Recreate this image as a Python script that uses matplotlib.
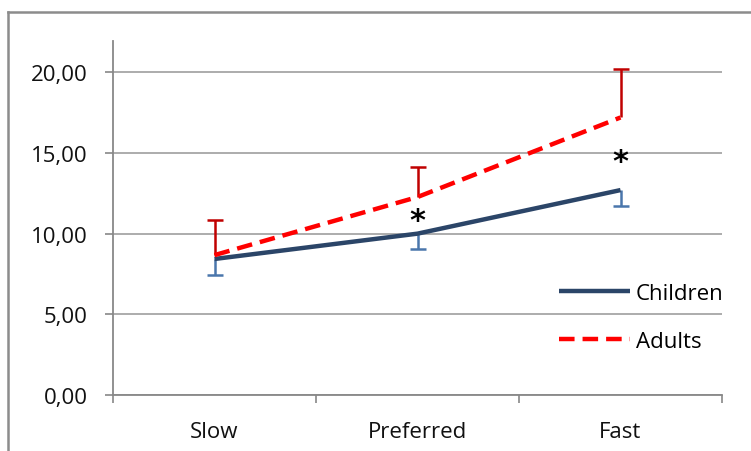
import matplotlib
matplotlib.use("Agg")
import matplotlib.pyplot as plt
from matplotlib.lines import Line2D

plt.rcParams['font.family'] = ['Open Sans', 'DejaVu Sans']

speeds = ["Slow", "Preferred", "Fast"]
children = [8.43, 10.0, 12.7]
children_err = [1.0, 0.95, 1.0]
adults = [8.67, 12.27, 17.2]
adults_err = [2.17, 1.86, 3.0]
yticks = [0, 5, 10, 15, 20]
ytick_labels = ["0,00", "5,00", "10,00", "15,00", "20,00"]
star_pos = [1, 2]
star_y = [10.8, 14.45]

fig = plt.figure(figsize=(7.51, 4.52), dpi=100)
ax = fig.add_axes([113 / 751, 56 / 452, 609 / 751, 354 / 452])

x = list(range(len(speeds)))

# one-sided error bars: stem + cap only at the far end
adults_top = [a + e for a, e in zip(adults, adults_err)]
children_bot = [c - e for c, e in zip(children, children_err)]
ax.vlines(x, adults, adults_top, color='#C00000', lw=1.8, zorder=3)
ax.plot(x, adults_top, ls='none', marker='_', ms=12, mew=1.8, color='#C00000', zorder=3)
ax.vlines(x, children_bot, children, color='#4A76AC', lw=1.8, zorder=3)
ax.plot(x, children_bot, ls='none', marker='_', ms=12, mew=1.8, color='#4A76AC', zorder=3)

ax.plot(x, children, color='#2B4568', lw=3.2, solid_capstyle='butt', label='Children', zorder=4)
ax.plot(x, adults, color='#FF0000', lw=3.2, dashes=(3.5, 1.8), label='Adults', zorder=5)

for px, py in zip(star_pos, star_y):
    ax.text(px, py, "*", fontsize=22, fontweight='bold', ha='center', va='center',
            family='DejaVu Sans', zorder=6)

ax.set_xlim(-0.5, 2.5)
ax.set_ylim(0, 21.94)
ax.set_yticks(yticks)
ax.set_yticklabels(ytick_labels)
ax.set_xticks(x)
ax.set_xticklabels(speeds)
ax.set_xticks([-0.5, 0.5, 1.5, 2.5], minor=True)
ax.tick_params(axis='x', which='major', length=0, pad=19)
ax.tick_params(axis='x', which='minor', length=6, color='#888888', width=1.2)
ax.tick_params(axis='y', length=6, color='#888888', width=1.2, pad=12)
ax.tick_params(labelsize=16, labelcolor='#111111')

ax.grid(axis='y', color='#A6A6A6', lw=1.3)
ax.set_axisbelow(True)
for s in ['top', 'right']:
    ax.spines[s].set_visible(False)
for s in ['left', 'bottom']:
    ax.spines[s].set_color('#888888')
    ax.spines[s].set_linewidth(1.3)

leg = ax.legend(loc='upper left', bbox_to_anchor=(539 / 751, 1 - 264 / 452),
                bbox_transform=fig.transFigure, frameon=False, fontsize=16,
                handlelength=3.2, handletextpad=0.25, labelspacing=1.2)
leg.set_zorder(10)

# chart area border (cut off at right and bottom)
fig.add_artist(Line2D([8 / 751, 8 / 751], [0, 1 - 13 / 452], transform=fig.transFigure,
                      color='#8C8C8C', lw=1.8))
fig.add_artist(Line2D([8 / 751, 1], [1 - 13 / 452, 1 - 13 / 452], transform=fig.transFigure,
                      color='#8C8C8C', lw=1.8))

fig.savefig("out.png", dpi=100)
